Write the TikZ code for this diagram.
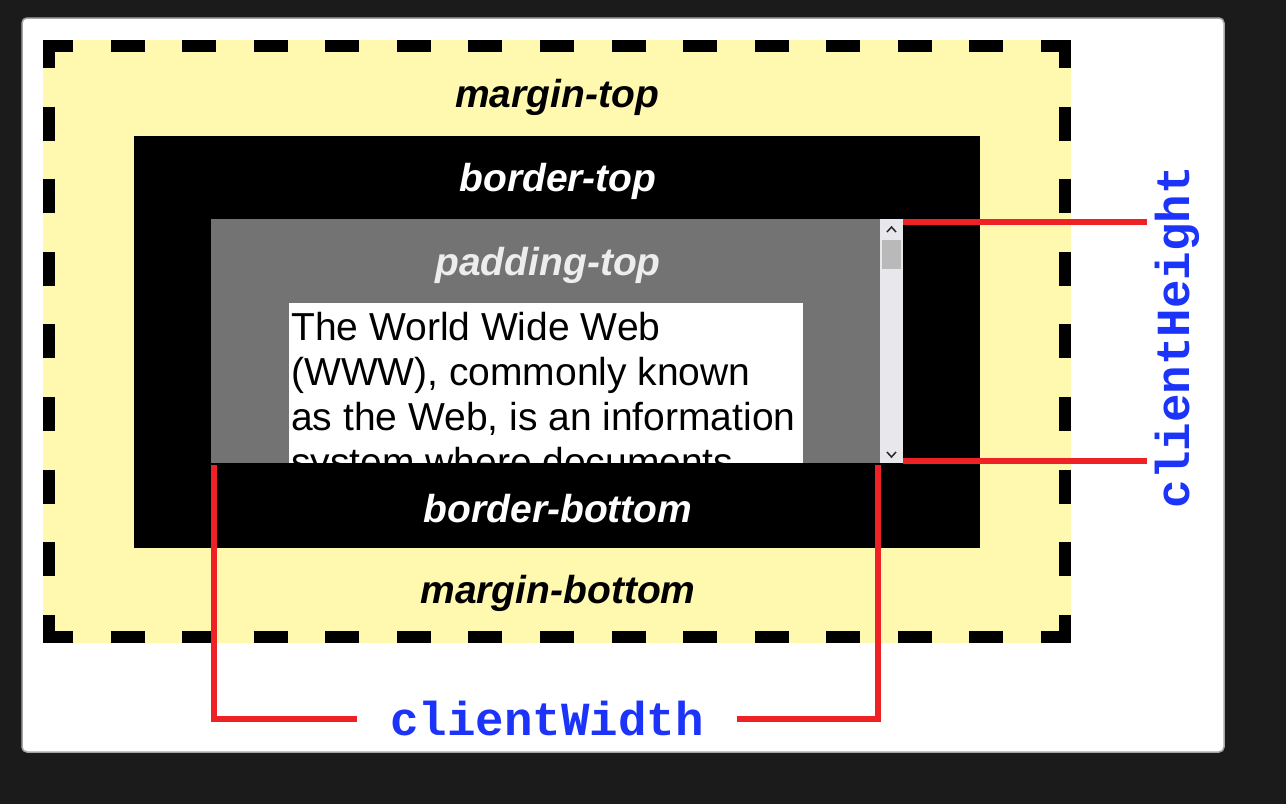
\documentclass[tikz,border=0pt]{standalone}
\usepackage{fontspec}
\setmainfont{Liberation Sans}
\newfontfamily\codefont{Liberation Mono}
\definecolor{pagebg}{RGB}{27,27,27}
\definecolor{marginyellow}{RGB}{255,249,176}
\definecolor{paddinggray}{RGB}{115,115,115}
\definecolor{scrolltrack}{RGB}{232,232,236}
\definecolor{clientred}{RGB}{238,34,36}
\definecolor{clientblue}{RGB}{28,52,250}
\tikzset{
  boxlabel/.style={font=\fontsize{39}{42}\selectfont\bfseries\itshape, inner sep=0pt},
  marginline/.style={line width=12pt},
  redline/.style={clientred, line width=6pt, line join=miter},
  codelabel/.style={font=\fontsize{47.5}{50}\selectfont\codefont\bfseries, text=clientblue, inner sep=0pt}
}
\begin{document}
\begin{tikzpicture}[x=1pt,y=-1pt]
    % Page
    \fill[pagebg] (0,0) rectangle (1286,804);
    \useasboundingbox (0,0) rectangle (1286,804);
    \filldraw[fill=white, draw=gray!70, line width=1.5pt, rounded corners=5pt] (22,18) rectangle (1224,752);

    % Margin (dashed outline, one side at a time)
    \fill[marginyellow] (43,40) rectangle (1071,643);
    \draw[marginline, dash pattern=on 34pt off 37.57pt, dash phase=4pt] (43,46) -- (1071,46);
    \draw[marginline, dash pattern=on 34pt off 37.57pt, dash phase=4pt] (43,637) -- (1071,637);
    \draw[marginline, dash pattern=on 34pt off 38.6pt, dash phase=6pt] (49,40) -- (49,643);
    \draw[marginline, dash pattern=on 34pt off 38.6pt, dash phase=6pt] (1065,40) -- (1065,643);

    % Border
    \fill[black] (134,136) rectangle (980,548);

    % Padding
    \fill[paddinggray] (211,219) rectangle (880,463);

    % Scrollbar
    \fill[scrolltrack] (880,219) rectangle (903,463);
    \fill[gray!55] (882,240) rectangle (901,269);
    \draw[gray!30!black, line width=1.5pt] (887,232) -- (891.5,227) -- (896,232);
    \draw[gray!30!black, line width=1.5pt] (887,452) -- (891.5,457) -- (896,452);

    % Content
    \fill[white] (289,303) rectangle (803,463);
    \begin{scope}
        \clip (289,303) rectangle (803,463);
        \node[anchor=north west, inner sep=0pt, align=left, font=\fontsize{39}{45}\selectfont]
            (content) at (291,312) {The World Wide Web\\(WWW), commonly known\\as the Web, is an information\\system where documents};
    \end{scope}

    % Labels
    \node[boxlabel] (mtop) at (557,97) {margin-top};
    \node[boxlabel, text=white] (btop) at (558,181) {border-top};
    \node[boxlabel, text=white!93!black] (ptop) at (548,265) {padding-top};
    \node[boxlabel, text=white] (bbottom) at (558,509) {border-bottom};
    \node[boxlabel] (mbottom) at (558,593) {margin-bottom};

    % clientHeight
    \node[codelabel, rotate=90, anchor=base] (clientH) at (1189,337) {clientHeight};
    \coordinate (chtop) at (903,222);
    \coordinate (chbot) at (903,461);
    \coordinate (chtopend) at (1147,222);
    \coordinate (chbotend) at (1147,461);
    \draw[redline] (chtop) -- (chtopend);
    \draw[redline] (chbot) -- (chbotend);

    % clientWidth
    \node[codelabel, inner xsep=33pt] (clientW) at (547,719) {clientWidth};
    \coordinate (cwleft) at (214,465);
    \coordinate (cwright) at (878,465);
    \draw[redline] (cwleft) |- (clientW.west);
    \draw[redline] (cwright) |- (clientW.east);
\end{tikzpicture}
\end{document}
